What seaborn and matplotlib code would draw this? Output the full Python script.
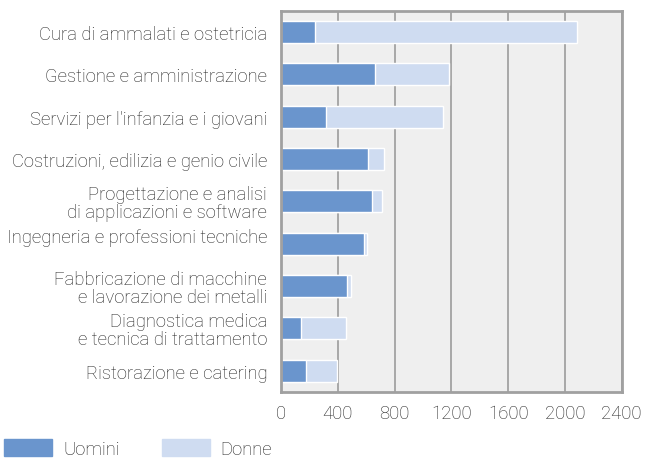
import numpy as np
import pandas as pd
import matplotlib as mpl
import matplotlib.pyplot as plt
import seaborn as sns
from matplotlib.patches import Patch

categorie = ["Cura di ammalati e ostetricia",
             "Gestione e amministrazione",
             "Servizi per l'infanzia e i giovani",
             "Costruzioni, edilizia e genio civile",
             "Progettazione e analisi\ndi applicazioni e software",
             "Ingegneria e professioni tecniche\n",
             "Fabbricazione di macchine\ne lavorazione dei metalli",
             "Diagnostica medica\ne tecnica di trattamento",
             "Ristorazione e catering"]
uomini = [239, 661, 317, 612, 640, 584, 464, 141, 176]
donne = [1844, 521, 823, 113, 71, 21, 29, 316, 220]
xticks = [0, 400, 800, 1200, 1600, 2000, 2400]

df = pd.DataFrame({"Categoria": categorie, "Uomini": uomini, "Donne": donne})
df["Totale"] = df["Uomini"] + df["Donne"]

sns.set_style("white")
mpl.rcParams["font.family"] = ["Roboto", "DejaVu Sans"]
mpl.rcParams["font.weight"] = "light"

c_uomini = "#6a95cd"
c_donne = "#cfdcf1"
grigio = "#a8a8a8"
testo = "#222222"
fs = 13.3

fig = plt.figure(figsize = (6.49, 4.60), dpi = 100)
ax = fig.add_axes([0.433, 0.146, 0.525, 0.828])
ax.set_facecolor("#efefef")

sns.barplot(data = df, x = "Totale", y = "Categoria", orient = "h", color = c_donne, width = 0.52, ax = ax, saturation = 1)
sns.barplot(data = df, x = "Uomini", y = "Categoria", orient = "h", color = c_uomini, width = 0.52, ax = ax, saturation = 1)

ax.set_xlim(0, 2400)
ax.set_xticks(xticks)
ax.set_xticklabels([str(t) for t in xticks])
ax.xaxis.grid(True, color = grigio, linewidth = 1.4)
ax.set_axisbelow(True)
for s in ax.spines.values():
    s.set_color("#a0a0a0")
    s.set_linewidth(2)
ax.tick_params(axis = "x", colors = grigio, length = 4, width = 1.4, labelsize = fs, labelcolor = testo, pad = 5)
ax.tick_params(axis = "y", length = 0, labelsize = fs, labelcolor = testo, pad = 10)
for lab in ax.get_yticklabels():
    lab.set_linespacing(0.98)
ax.set_xlabel("")
ax.set_ylabel("")

handles = [Patch(color = c_uomini, label = "Uomini"), Patch(color = c_donne, label = "Donne")]
fig.legend(handles = handles, loc = "lower left", bbox_to_anchor = (0.005, 0.0), ncol = 2, frameon = False,
           fontsize = fs, handlelength = 2.6, handleheight = 1.0, columnspacing = 2.3, handletextpad = 0.58,
           labelcolor = testo, borderaxespad = 0, borderpad = 0.05)

fig.savefig("out.png", dpi = 100)
